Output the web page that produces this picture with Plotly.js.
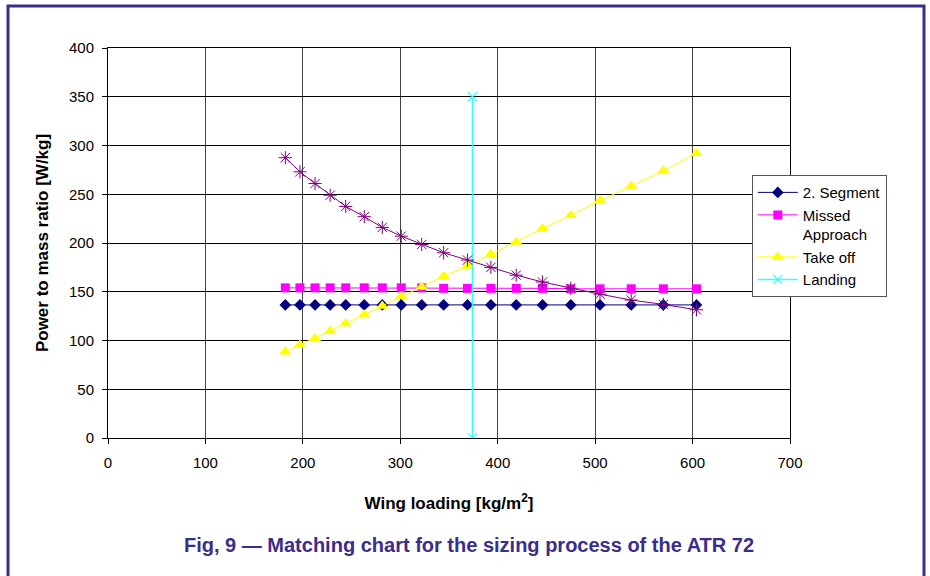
<!DOCTYPE html>
<html>
<head>
<meta charset="utf-8">
<script src="https://cdn.plot.ly/plotly-3.0.1.min.js"></script>
<style>html,body{margin:0;padding:0;background:#fff;}#chart{width:930px;height:576px;}</style>
</head>
<body>
<div id="chart"></div>
<script>
// Wing loading values [kg/m^2]
const wingLoading = [182, 197, 212.5, 228, 244, 263, 281.5, 301, 322, 344.5, 369, 393, 419, 446, 475, 505, 537, 570, 604];
// Power to mass ratio [W/kg]
const segment2 = [136.5, 136.5, 136.5, 136.5, 136.5, 136.5, 136.5, 136.5, 136.5, 136.5, 136.5, 136.5, 136.5, 136.5, 136.5, 136.5, 136.5, 136.5, 136.5];
const missedApproach = [154, 154, 154, 154, 154, 154, 154, 154, 154, 153.5, 153.5, 153.5, 153.5, 153.5, 153, 153, 153, 153, 153];
const takeOff = [88.5, 95.5, 102, 109.5, 117.5, 126.5, 135.5, 145.5, 155, 166, 176.5, 188.5, 201, 215, 228.5, 243.5, 258.5, 274, 292];
const cruise = [287.5, 273, 261, 249, 237.5, 227, 216, 207, 198.5, 190, 182.5, 175, 167, 160, 153.5, 147.5, 141.5, 137, 131.5];
const landingX = [374, 374];
const landingY = [0, 350];

const xTicks = [0, 100, 200, 300, 400, 500, 600, 700];
const yTicks = [0, 50, 100, 150, 200, 250, 300, 350, 400];

const FONT = 'Liberation Sans, Arial, sans-serif';

const traces = [
  {x: wingLoading, y: segment2, name: '2. Segment', type: 'scatter', mode: 'lines+markers', legendgroup: 'a',
   line: {color: '#000080', width: 1}, marker: {symbol: 'diamond', size: 9, color: '#000080'}},
  {x: wingLoading, y: missedApproach, name: 'Missed<br>Approach', type: 'scatter', mode: 'lines+markers', legendgroup: 'b',
   line: {color: '#ff00ff', width: 1}, marker: {symbol: 'square', size: 9, color: '#ff00ff'}},
  {x: wingLoading, y: takeOff, name: 'Take off', type: 'scatter', mode: 'lines+markers', legendgroup: 'c',
   line: {color: '#ffff00', width: 1}, marker: {symbol: 'triangle-up', size: 11, color: '#ffff00'}},
  {x: landingX, y: landingY, name: 'Landing', type: 'scatter', mode: 'lines+markers', legendgroup: 'd',
   line: {color: '#33ffff', width: 1.5}, marker: {symbol: 'x-thin-open', size: 9, color: '#33ffff', line: {color: '#33ffff', width: 1.2}}},
  {x: wingLoading, y: cruise, name: 'Cruise', type: 'scatter', mode: 'lines+markers', showlegend: false,
   line: {color: '#800080', width: 1}, marker: {symbol: 'asterisk-open', size: 11, color: '#800080', line: {color: '#800080', width: 1}}}
];

const layout = {
  width: 930, height: 576,
  margin: {l: 108, r: 140, t: 48, b: 138},
  paper_bgcolor: '#fff', plot_bgcolor: '#fff',
  font: {family: FONT, size: 15, color: '#000'},
  showlegend: true,
  legend: {x: 0.944, y: 0.674, xanchor: 'left', yanchor: 'top', bgcolor: '#fff', bordercolor: '#555', borderwidth: 1,
    font: {family: FONT, size: 15, color: '#000'}, traceorder: 'grouped', tracegroupgap: 0, valign: 'top', itemwidth: 40,
    entrywidth: 140, entrywidthmode: 'pixels'},
  xaxis: {range: [0, 700], tickvals: xTicks, ticktext: xTicks.map(String), showgrid: true, gridcolor: '#444', gridwidth: 1,
    zeroline: false, showline: true, mirror: true, linecolor: '#000', linewidth: 1, ticks: 'outside', ticklen: 5, tickcolor: '#000',
    ticklabelstandoff: 6,
    tickfont: {family: FONT, size: 15, color: '#000'},
    title: {text: 'Wing loading [kg/m<sup>2</sup>]', font: {family: FONT, size: 17, color: '#000', weight: 'bold'}, standoff: 27}},
  yaxis: {range: [0, 400], tickvals: yTicks, ticktext: yTicks.map(String), showgrid: true, gridcolor: '#000', gridwidth: 1,
    zeroline: false, showline: true, mirror: true, linecolor: '#000', linewidth: 1, ticks: 'outside', ticklen: 5, tickcolor: '#000',
    ticklabelstandoff: 5,
    tickfont: {family: FONT, size: 15, color: '#000'},
    title: {text: 'Power to mass ratio [W/kg]', font: {family: FONT, size: 17, color: '#000', weight: 'bold'}, standoff: 16}},
  shapes: [
    {type: 'rect', xref: 'paper', yref: 'paper', x0: -0.1466, x1: 1.1965, y0: -0.5, y1: 1.1077,
     line: {color: '#3b2d8c', width: 3}, fillcolor: 'rgba(0,0,0,0)', layer: 'above'}
  ],
  annotations: [
    {text: 'Fig, 9 — Matching chart for the sizing process of the ATR 72', xref: 'paper', yref: 'paper',
     x: (469 - 108) / 682, y: (438 - 545) / 390, xanchor: 'center', yanchor: 'middle', showarrow: false,
     font: {family: 'Liberation Sans Narrow, Arial Narrow, ' + FONT, size: 20, color: '#3b2d8c', weight: 'bold'}}
  ]
};

Plotly.newPlot('chart', traces, layout, {displayModeBar: false, staticPlot: true});
</script>
</body>
</html>
